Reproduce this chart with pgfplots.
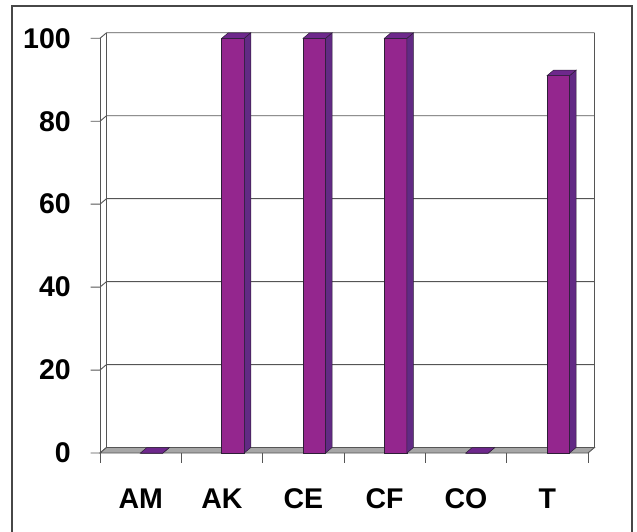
\documentclass[border=0pt]{standalone}
\usepackage{pgfplots}
\usepackage{pgfplotstable}
\pgfplotsset{compat=1.18}
\usepackage{fontspec}
\setmainfont{Liberation Sans}

\definecolor{barfront}{RGB}{148,38,142}
\definecolor{barside}{RGB}{98,42,132}
\definecolor{bartop}{RGB}{110,40,140}
\definecolor{floorgray}{RGB}{166,166,166}
\definecolor{wallline}{RGB}{85,85,85}
\definecolor{baredge}{RGB}{45,30,55}

% pt per y unit (axis height / 100) and the depth offset of the 3-D box
\newcommand\yunit{4.147}
\newcommand\depx{6.5pt}
\newcommand\depy{5.5pt}

% side and top faces of a column, drawn at the top centre of its category
\pgfdeclareplotmark{colsidetop}{%
  \pgfmathsetlengthmacro\colh{\barval*\yunit}%
  \path[fill=barside,draw=baredge,line width=0.5pt]
    (22.25pt,0pt) -- ++(\depx,\depy) -- ++(0pt,-\colh) -- ++(-\depx,-\depy) -- cycle;
  \path[fill=bartop,draw=baredge,line width=0.5pt]
    (-0.25pt,0pt) -- (22.25pt,0pt) -- ++(\depx,\depy) -- ++(-22.5pt,0pt) -- cycle;
}

\pgfplotstableread{
x v
0 0
1 100
2 100
3 100
4 0
5 91
}\datatable

\begin{document}
\begin{tikzpicture}[x=1pt,y=1pt]
\useasboundingbox (0,0) rectangle (637,531);
\draw[line width=1.3pt, black!72] (12,-4) rectangle (632,525);
\begin{axis}[
  at={(100pt,78pt)}, anchor=south west,
  scale only axis, width=488pt, height=414.7pt,
  xmin=-0.5, xmax=5.5, ymin=0, ymax=100,
  clip=false,
  axis x line*=bottom, axis y line*=left,
  axis line style={draw=none},
  xtick={0,...,5}, xticklabels={AM,AK,CE,CF,CO,T},
  ytick={0,20,...,100},
  major tick length=0pt,
  /pgf/number format/assume math mode=true,
  tick label style={font=\fontsize{28.5}{32}\selectfont\bfseries},
  xticklabel style={anchor=base, inner sep=0pt, yshift=-55pt},
  yticklabel style={anchor=east, inner sep=0pt, xshift=-29pt},
]
% back wall: gridlines, wall edges and the front axis ticks
\pgfplotsinvokeforeach{0,20,...,100}{
  \draw[wallline, line width=0.9pt]
    ([xshift=-9.3pt]axis cs:-0.5,#1) -- (axis cs:-0.5,#1) -- ++(\depx,\depy)
    -- ([shift={(\depx,\depy)}]axis cs:5.5,#1);
}
\draw[wallline, line width=0.9pt]
  ([shift={(\depx,\depy)}]axis cs:-0.5,0) -- ([shift={(\depx,\depy)}]axis cs:-0.5,100);
\draw[wallline, line width=0.9pt]
  ([shift={(\depx,\depy)}]axis cs:5.5,0) -- ([shift={(\depx,\depy)}]axis cs:5.5,100);
% floor
\filldraw[fill=floorgray, draw=wallline, line width=0.9pt]
  (axis cs:-0.5,0) -- (axis cs:5.5,0) -- ++(\depx,\depy)
  -- ([shift={(\depx,\depy)}]axis cs:-0.5,0) -- cycle;
% front vertical axis
\draw[wallline, line width=0.9pt] (axis cs:-0.5,100) -- (axis cs:-0.5,0);
% category boundary ticks
\pgfplotsinvokeforeach{-0.5,0.5,...,5.5}{
  \draw[wallline, line width=0.9pt] (axis cs:#1,0) -- ++(0pt,-9.5pt);
}
% column fronts
\addplot[ybar, bar width=22.5pt, bar shift=11pt, fill=barfront,
  draw=baredge, line width=0.5pt] table[x=x,y=v]{\datatable};
% column sides and tops
\addplot[only marks, mark=colsidetop,
  visualization depends on={rawy \as \barval}] table[x=x,y=v]{\datatable};
\end{axis}
\end{tikzpicture}
\end{document}
